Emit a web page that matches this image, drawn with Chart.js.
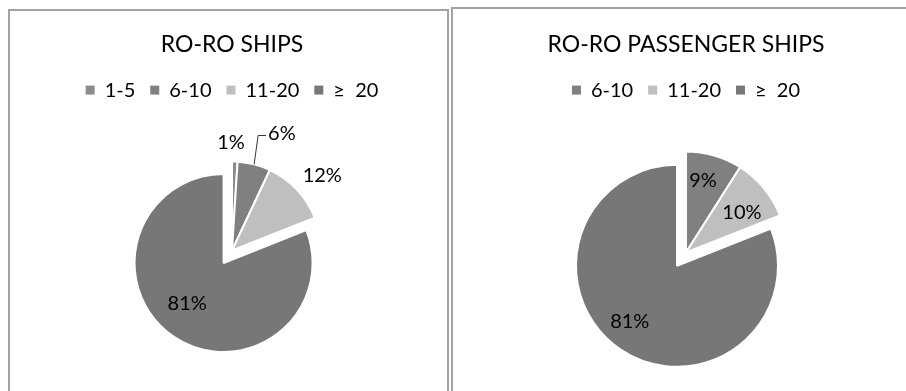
<!DOCTYPE html>
<html lang="en">
<head>
<meta charset="UTF-8" />
<title>Ro-Ro ships by age</title>
<script src="https://cdn.jsdelivr.net/npm/chart.js"></script>
<style>
  html, body { margin: 0; padding: 0; background: #fff; overflow: hidden; }
  body { width: 906px; height: 391px; position: relative; }
  .panel { position: absolute; border: 2px solid #a3a3a3; background: #fff; overflow: hidden; }
  #left { left: 8px; top: 9px; width: 437px; height: 400px; }
  #right { left: 451px; top: 7px; width: 470px; height: 400px; }
  canvas { display: block; }
</style>
</head>
<body>
  <div class="panel" id="left"><canvas id="roro" width="437" height="380"></canvas></div>
  <div class="panel" id="right"><canvas id="ropax" width="453" height="386"></canvas></div>
<script>
// age groups (years) and share of ships, in %
const roroLabels = ["1-5", "6-10", "11-20", "≥  20"];
const roroShares = [1, 6, 12, 81];
const ropaxLabels = ["6-10", "11-20", "≥  20"];
const ropaxShares = [9, 10, 81];

const FONT = "Lato, 'Open Sans', sans-serif";

// pulls a slice out along its bisector without growing it
const explodePlugin = {
  id: "explode",
  afterDatasetsUpdate(chart, args, opts) {
    const dist = opts.distance || [];
    chart.getDatasetMeta(0).data.forEach((arc, i) => {
      const d = dist[i] || 0;
      if (!d) return;
      const mid = (arc.startAngle + arc.endAngle) / 2;
      arc.x += Math.cos(mid) * d;
      arc.y += Math.sin(mid) * d;
    });
  },
};

// percentage labels; place = [fraction of radius, angle nudge in degrees]
const sliceLabels = {
  id: "sliceLabels",
  afterDatasetsDraw(chart, args, opts) {
    const ctx = chart.ctx;
    const values = chart.data.datasets[0].data;
    ctx.save();
    ctx.font = opts.font;
    ctx.fillStyle = "#000";
    ctx.strokeStyle = "#333";
    ctx.lineWidth = 1;
    ctx.textAlign = "center";
    ctx.textBaseline = "middle";
    chart.getDatasetMeta(0).data.forEach((arc, i) => {
      const [f, nudge] = opts.place[i];
      const mid = (arc.startAngle + arc.endAngle) / 2;
      const a = mid + (nudge * Math.PI) / 180;
      const x = arc.x + Math.cos(a) * arc.outerRadius * f;
      const y = arc.y + Math.sin(a) * arc.outerRadius * f;
      const text = values[i] + "%";
      ctx.fillText(text, x, y);
      if (opts.leader && opts.leader[i]) {
        const left = x - ctx.measureText(text).width / 2 - 2;
        const sx = arc.x + Math.cos(mid) * arc.outerRadius;
        const sy = arc.y + Math.sin(mid) * arc.outerRadius;
        ctx.beginPath();
        ctx.moveTo(sx, sy);
        ctx.lineTo(left - 8, y + 2);
        ctx.lineTo(left, y + 2);
        ctx.stroke();
      }
    });
    ctx.restore();
  },
};

function pie(id, title, labels, values, colors, cfg) {
  return new Chart(document.getElementById(id), {
    type: "pie",
    data: {
      labels: labels,
      datasets: [
        {
          data: values,
          backgroundColor: colors,
          borderColor: "#fff",
          borderWidth: 2,
          hoverOffset: 0,
        },
      ],
    },
    plugins: [explodePlugin, sliceLabels],
    options: {
      responsive: false,
      animation: false,
      events: [],
      radius: cfg.radius,
      layout: { padding: { left: cfg.padLeft, right: 0, top: 0, bottom: 0 } },
      plugins: {
        title: {
          display: true,
          text: title,
          color: "#000",
          font: { family: FONT, size: 23, weight: "normal" },
          padding: { top: cfg.titleTop, bottom: 6.5 },
        },
        legend: {
          position: "top",
          labels: {
            color: "#000",
            font: { family: FONT, size: 20 },
            boxWidth: 9,
            boxHeight: 9,
            padding: 15,
            generateLabels(chart) {
              return Chart.overrides.pie.plugins.legend.labels
                .generateLabels(chart)
                .map((item) => Object.assign(item, { lineWidth: 0 }));
            },
          },
        },
        tooltip: { enabled: false },
        explode: { distance: cfg.explode },
        sliceLabels: {
          font: "20px " + FONT,
          place: cfg.place,
          leader: cfg.leader,
        },
      },
    },
  });
}

pie("roro", "RO-RO SHIPS", roroLabels, roroShares,
  ["#8c8c8c", "#808080", "#bfbfbf", "#777777"], {
    radius: 89,
    padLeft: 7,
    titleTop: 20,
    explode: [0, 0, 0, 15],
    place: [[1.21, -2.3], [1.43, 8.7], [1.32, 3.4], [0.61, 7.9]],
    leader: [false, true, false, false],
  });

pie("ropax", "RO-RO PASSENGER SHIPS", ropaxLabels, ropaxShares,
  ["#808080", "#bfbfbf", "#777777"], {
    radius: 101,
    padLeft: 13,
    titleTop: 22,
    explode: [0, 0, 16],
    place: [[0.73, -2.9], [0.68, 4.1], [0.72, 6.3]],
  });
</script>
</body>
</html>
